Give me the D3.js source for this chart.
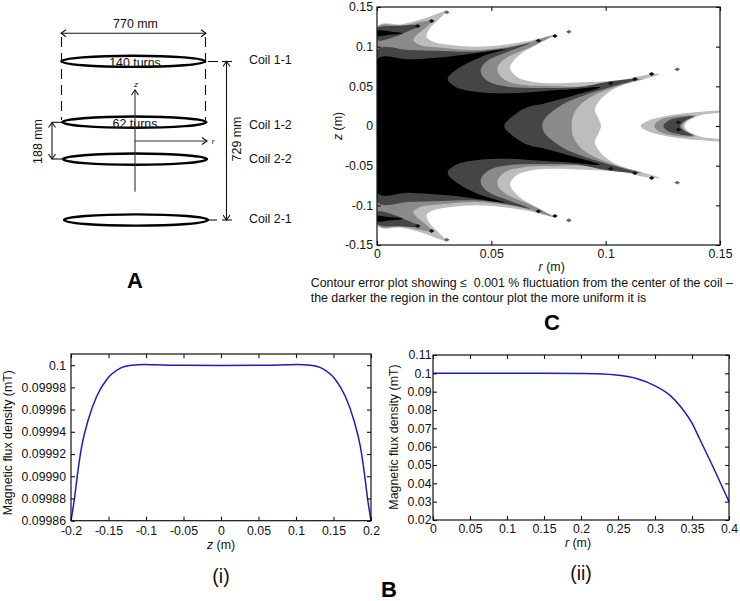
<!DOCTYPE html>
<html>
<head>
<meta charset="utf-8">
<script src="https://cdnjs.cloudflare.com/ajax/libs/d3/7.8.5/d3.min.js"></script>
<style>
  body { margin: 0; background: #fff; }
  text { font-family: "Liberation Sans", Arial, sans-serif; fill: #111; }
  .tick text { font-size: 12.3px; }
  .tick line { stroke: #111; stroke-width: 1.1; }
  .label { font-size: 12.4px; }
  .small { font-size: 8px; font-style: italic; }
  .panel { font-size: 22px; font-weight: bold; text-anchor: middle; fill: #000; }
  .sub { font-size: 19.5px; text-anchor: middle; }
</style>
</head>
<body>
<div class="chart"></div>
<script>
var svgWidth = 740;
var svgHeight = 601;

// Coil diagram (A)
var coilNames = ["Coil 1-1", "Coil 1-2", "Coil 2-2", "Coil 2-1"];
var coilHeights = [364.5, 85, -85, -364.5];
var coilTurns = ["140 turns", "62 turns", "", ""];

// Contour plot (C): upper half outlines as [r, z] in metres, mirrored about z = 0
var lightBand = [[0, .1252], [.0108, .1282], [.0210, .1357], [.0268, .1420], [.0305, .1450], [.0268, .1336], [.0232, .1231], [.0217, .1126], [.0246, .1063], [.0327, .1021], [.0429, .1000], [.0545, .1021], [.0662, .1071], [.0778, .1147], [.0720, .1055], [.0633, .0916], [.0589, .0790], [.0582, .0727], [.0611, .0622], [.0676, .0559], [.0778, .0540], [.0851, .0546], [.0968, .0559], [.1085, .0588], [.1172, .0643], [.1238, .0655], [.1157, .0580], [.1055, .0496], [.0982, .0349], [.0953, .0202], [.0968, .0097], [.0980, 0]];
var midBand = [[0, .1244], [.0108, .1265], [.0239, .1324], [.0210, .1231], [.0173, .1147], [.0159, .1084], [.0188, .1021], [.0283, .0987], [.0429, .0958], [.0574, .1000], [.0676, .1063], [.0764, .1139], [.0676, .1000], [.0574, .0874], [.0531, .0769], [.0528, .0685], [.0560, .0580], [.0647, .0517], [.0778, .0505], [.0880, .0496], [.0997, .0538], [.1085, .0580], [.1157, .0592], [.1070, .0517], [.0968, .0412], [.0895, .0286], [.0859, .0139], [.0851, 0]];
var darkBand = [[0, .0958], [.0137, .0958], [.0283, .0945], [.0429, .0937], [.0560, .0979], [.0669, .1042], [.0574, .0937], [.0487, .0832], [.0455, .0727], [.0458, .0643], [.0494, .0550], [.0574, .0496], [.0735, .0480], [.0880, .0487], [.1012, .0559], [.1143, .0592], [.1026, .0496], [.0910, .0391], [.0808, .0265], [.0735, .0097], [.0723, 0]];
var blackBand = [[0, .0840], [.0137, .0840], [.0312, .0874], [.0429, .0916], [.0560, .0966], [.0458, .0874], [.0356, .0727], [.0309, .0592], [.0341, .0496], [.0429, .0433], [.0574, .0412], [.0735, .0441], [.0851, .0462], [.0975, .0487], [.0866, .0391], [.0735, .0286], [.0647, .0223], [.0560, .0034], [.0557, 0]];
var blackCorner = [[0, .1197], [.0064, .1189], [.0115, .1168], [.0050, .1147], [0, .1139]];
var darkCorner = [[0, .1231], [.0093, .1265], [.0188, .1265], [.0130, .1189], [.0079, .1126], [0, .1084]];
var islandLight = [[.1153, 0], [.1186, .0067], [.1288, .0139], [.1420, .0181], [.15, .0189], [.15, .0172], [.1420, .0139], [.1361, .0067], [.1344, 0]];
var islandMid = [[.1213, 0], [.1238, .0076], [.1318, .0126], [.1391, .0126], [.1347, .0055], [.1335, 0]];
var islandDark = [[.1252, 0], [.1274, .0067], [.1332, .0109], [.1383, .0118], [.1347, .0067], [.1325, 0]];
var specks = [[.0239, .1324], [.0178, .1261], [.0706, .1076], [.0778, .1134], [.1022, .0538], [.1128, .0592], [.1201, .0655], [.1318, .0046]];
var faintSpecks = [[.0305, .1433], [.0839, .1189], [.1313, .0714]];
var contourLayers = [lightBand, midBand, darkCorner, darkBand, blackBand, blackCorner, islandLight, islandMid, islandDark];
var contourFills = ["#bdbdbd", "#8a8a8a", "#454545", "#454545", "#000", "#000", "#bdbdbd", "#8a8a8a", "#454545"];
var contourXTicks = [0, .05, .1, .15];
var contourXLabels = ["0", "0.05", "0.1", "0.15"];
var contourYTicks = [-.15, -.1, -.05, 0, .05, .1, .15];
var contourYLabels = ["-0.15", "-0.1", "-0.05", "0", "0.05", "0.1", "0.15"];

// Flux density along z (B i)
var axialZ = [-.2, -.1956, -.1911, -.1857, -.1769, -.1657, -.1524, -.1347, -.1191, -.1013, -.088, -.05, 0, .05, .088, .1013, .1191, .1347, .1524, .1657, .1769, .1857, .1911, .1956, .2];
var axialB = [.09986, .099879, .099903, .099927, .099951, .099972, .099987, .099997, .0999998, .1000006, .1000003, .0999998, .0999997, .0999998, .1000003, .1000006, .0999998, .099997, .099987, .099972, .099951, .099927, .099903, .099879, .09986];
var axialXTicks = [-.2, -.15, -.1, -.05, 0, .05, .1, .15, .2];
var axialXLabels = ["-0.2", "-0.15", "-0.1", "-0.05", "0", "0.05", "0.1", "0.15", "0.2"];
var axialYTicks = [.09986, .09988, .0999, .09992, .09994, .09996, .09998, .1];
var axialYLabels = ["0.09986", "0.09988", "0.09990", "0.09992", "0.09994", "0.09996", "0.09998", "0.1"];

// Flux density along r (B ii)
var radialR = [0, .1, .2, .22, .25, .275, .3, .32, .335, .35, .36, .375, .4];
var radialB = [.1, .1, .09995, .0998, .099, .0972, .0932, .0881, .0816, .0728, .0645, .0519, .03];
var radialXTicks = [0, .05, .1, .15, .2, .25, .3, .35, .4];
var radialXLabels = ["0", "0.05", "0.1", "0.15", "0.2", "0.25", "0.3", "0.35", "0.4"];
var radialYTicks = [.02, .03, .04, .05, .06, .07, .08, .09, .1, .11];
var radialYLabels = ["0.02", "0.03", "0.04", "0.05", "0.06", "0.07", "0.08", "0.09", "0.1", "0.11"];

var svg = d3.select(".chart")
  .append("svg")
  .attr("width", svgWidth)
  .attr("height", svgHeight)
  .style("display", "block");

svg.append("defs").append("marker")
  .attr("id", "open")
  .attr("markerWidth", 8).attr("markerHeight", 8)
  .attr("refX", 6).attr("refY", 4)
  .attr("orient", "auto-start-reverse")
  .attr("markerUnits", "userSpaceOnUse")
  .append("path")
  .attr("d", "M1,0.5 L6,4 L1,7.5")
  .attr("fill", "none")
  .attr("stroke", "#111")
  .attr("stroke-width", 1.1);

// Boxed plot with inward ticks on all four sides
function drawFrame(x, y, xTicks, xLabels, yTicks, yLabels, xPad, yPad) {
  var g = svg.append("g");
  var r = x.range(), b = y.range();
  g.append("g").attr("transform", `translate(0, ${b[0]})`)
    .call(d3.axisBottom(x).tickValues(xTicks).tickSize(-4).tickPadding(xPad)
      .tickFormat((d, i) => xLabels[i]));
  g.append("g").attr("transform", `translate(0, ${b[1]})`)
    .call(d3.axisTop(x).tickValues(xTicks).tickSize(-4).tickFormat(""));
  g.append("g").attr("transform", `translate(${r[0]}, 0)`)
    .call(d3.axisLeft(y).tickValues(yTicks).tickSize(-4).tickPadding(yPad)
      .tickFormat((d, i) => yLabels[i]));
  g.append("g").attr("transform", `translate(${r[1]}, 0)`)
    .call(d3.axisRight(y).tickValues(yTicks).tickSize(-4).tickFormat(""));
  g.selectAll(".domain").remove();
  g.append("rect")
    .attr("x", r[0]).attr("y", b[1])
    .attr("width", r[1] - r[0]).attr("height", b[0] - b[1])
    .attr("fill", "none").attr("stroke", "#111").attr("stroke-width", 1.2);
}

function addText(str, x, y, cls, anchor, rotate) {
  var t = svg.append("text").attr("class", cls).text(str);
  if (anchor) t.attr("text-anchor", anchor);
  if (rotate) t.attr("transform", `translate(${x}, ${y}) rotate(${rotate})`);
  else t.attr("x", x).attr("y", y);
  return t;
}

// Axis title with an italic variable
function axisTitle(v, x, y, rotate) {
  var t = addText("", x, y, "label", "middle", rotate);
  t.append("tspan").attr("font-style", "italic").text(v);
  t.append("tspan").text(" (m)");
}

function drawLineChart(xs, ys, x, y) {
  svg.append("path")
    .datum(xs.map((d, i) => [d, ys[i]]))
    .attr("fill", "none")
    .attr("stroke", "#1c1cc4")
    .attr("stroke-width", 1.5)
    .attr("d", d3.line().x(d => x(d[0])).y(d => y(d[1])).curve(d3.curveMonotoneX));
}

function segment(x1, y1, x2, y2, opts) {
  var l = svg.append("line")
    .attr("x1", x1).attr("y1", y1).attr("x2", x2).attr("y2", y2)
    .attr("stroke", "#111").attr("stroke-width", 1.1);
  opts = opts || {};
  if (opts.dash) l.attr("stroke-dasharray", opts.dash);
  if (opts.start) l.attr("marker-start", "url(#open)");
  if (opts.end) l.attr("marker-end", "url(#open)");
  if (opts.color) l.attr("stroke", opts.color);
  return l;
}

// ---- A: coils ----
var coilY = d3.scaleLinear().domain([364.5, -364.5]).range([61.3, 220]);
var coilX = d3.scaleLinear().domain([364.5, -364.5]).range([133.3, 136]);
var labelShift = [3, 6.7, 4.3, 3];
coilHeights.forEach(function(h, i) {
  svg.append("ellipse")
    .attr("cx", coilX(h)).attr("cy", coilY(h))
    .attr("rx", 72).attr("ry", 5.6)
    .attr("fill", "none").attr("stroke", "#000").attr("stroke-width", 2.4);
  addText(coilNames[i], 249, coilY(h) + labelShift[i], "label");
  if (coilTurns[i]) addText(coilTurns[i], 135, coilY(h) + 5.4, "label", "middle");
});

segment(61, 33.3, 206, 33.3, { start: true, end: true });
addText("770 mm", 135.5, 27.7, "label", "middle");
segment(61.5, 37, 61.5, 120, { dash: "10 6" });
segment(205.5, 37, 205.5, 120, { dash: "10 6" });
segment(135, 191.7, 135, 90, { end: true, color: "#333" });
segment(135, 141, 207, 141, { end: true, color: "#333" });
addText("z", 136, 87, "small", "middle");
addText("r", 213, 143.5, "small", "middle");
segment(52, 122.5, 52, 159, { start: true, end: true });
segment(52, 122.3, 62, 122.3);
segment(52, 159, 62, 159);
addText("188 mm", 42, 141.5, "label", "middle", -90);
segment(226.5, 61.5, 226.5, 220, { start: true, end: true });
segment(208, 61.5, 218, 61.5);
segment(222, 61.5, 232, 61.5);
segment(209, 220, 217, 220);
segment(222, 220, 232, 220);
addText("729 mm", 241, 139, "label", "middle", -90);
addText("A", 135, 288, "panel");

// ---- C: contour ----
var cx = d3.scaleLinear().domain([0, .15]).range([377, 720]);
var cy = d3.scaleLinear().domain([-.15, .15]).range([245, 7]);
var contourLine = d3.line().x(d => cx(d[0])).y(d => cy(d[1])).curve(d3.curveCatmullRomClosed.alpha(0.5));

function mirrored(pts) {
  return pts.concat(pts.slice().reverse().filter(d => d[1] !== 0).map(d => [d[0], -d[1]]));
}

svg.append("clipPath").attr("id", "contourClip").append("rect")
  .attr("x", cx(0)).attr("y", cy(.15)).attr("width", cx(.15) - cx(0)).attr("height", cy(-.15) - cy(.15));

var contour = svg.append("g").attr("clip-path", "url(#contourClip)");

contour.selectAll("path.layer")
  .data(contourLayers)
  .enter()
  .append("path")
  .attr("class", "layer")
  .attr("fill", (d, i) => contourFills[i])
  .attr("d", function(d) {
    // the corner patches are separate pieces above and below the centre
    if (d === darkCorner || d === blackCorner) {
      return contourLine(d) + contourLine(d.map(p => [p[0], -p[1]]));
    }
    return contourLine(mirrored(d));
  });

function drawSpecks(list, fill) {
  contour.selectAll(null)
    .data(list.concat(list.map(d => [d[0], -d[1]])))
    .enter()
    .append("path")
    .attr("fill", fill)
    .attr("transform", d => `translate(${cx(d[0])}, ${cy(d[1])}) scale(2, 0.8)`)
    .attr("d", d3.symbol(d3.symbolDiamond, 7));
}
drawSpecks(specks, "#111");
drawSpecks(faintSpecks, "#666");

drawFrame(cx, cy, contourXTicks, contourXLabels, contourYTicks, contourYLabels, 4.3, 4);
axisTitle("r", 551.7, 270.7);
axisTitle("z", 342, 126, -90);
addText("Contour error plot showing \u2264  0.001 % fluctuation from the center of the coil \u2013", 310.7, 287, "label").style("white-space", "pre");
addText("the darker the region in the contour plot the more uniform it is", 310.7, 302, "label");
addText("C", 552, 330, "panel");

// ---- B (i) ----
var ax = d3.scaleLinear().domain([-.2, .2]).range([71, 371]);
// frame top sits above the 0.1 tick
var ay = d3.scaleLinear().domain([.09986, .10001]).range([520.7, 354]);
drawLineChart(axialZ, axialB, ax, ay);
drawFrame(ax, ay, axialXTicks, axialXLabels, axialYTicks, axialYLabels, 5.3, 5);
axisTitle("z", 221, 548.5);
addText("Magnetic flux density (mT)", 12, 442.7, "label", "middle", -90);
addText("(i)", 221, 583, "sub");

// ---- B (ii) ----
var rx = d3.scaleLinear().domain([0, .4]).range([433, 729]);
var ry = d3.scaleLinear().domain([.02, .11]).range([520, 355]);
drawLineChart(radialR, radialB, rx, ry);
drawFrame(rx, ry, radialXTicks, radialXLabels, radialYTicks, radialYLabels, 4.3, 1.5);
axisTitle("r", 578, 546.5);
addText("Magnetic flux density (mT)", 398, 437, "label", "middle", -90);
addText("(ii)", 581, 580, "sub");
addText("B", 389, 597, "panel");
</script>
</body>
</html>
